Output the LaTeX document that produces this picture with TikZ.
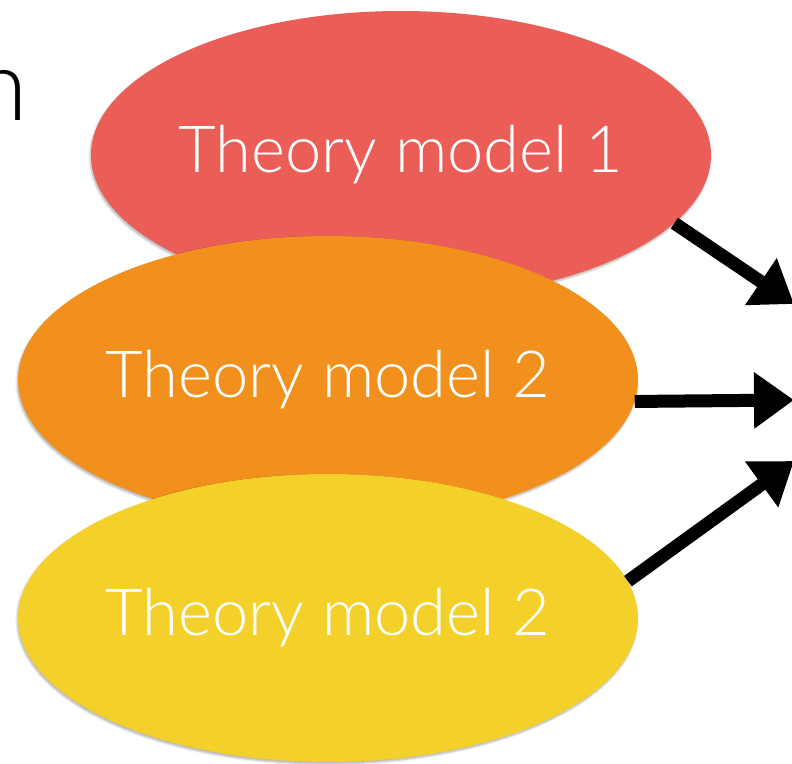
\documentclass[tikz,border=0pt]{standalone}
\usepackage{fontspec}
\setmainfont{Lato}[UprightFont=* Light]
\usepackage{tikz}
\usetikzlibrary{shapes.geometric,arrows.meta,shadows.blur}
\definecolor{mred}{HTML}{EB5E58}
\definecolor{morange}{HTML}{F1901C}
\definecolor{myellow}{HTML}{F4D12A}
\tikzset{
  model/.style={ellipse,minimum width=620pt,minimum height=288pt,inner sep=0pt,
    text=white,font=\fontsize{65}{78}\selectfont,
    blur shadow={shadow xshift=-1pt,shadow yshift=-2pt,shadow opacity=30,shadow blur steps=6}},
  feed/.style={line width=13pt,-{Triangle[length=40pt,width=54pt]}}
}
\newcommand{\mlabel}[1]{\makebox[0pt]{#1}}
\begin{document}
\begin{tikzpicture}[x=1pt,y=-1pt]
\useasboundingbox (0,0) rectangle (792,763);
\clip (0,0) rectangle (792,763);
\node[anchor=base east,inner sep=0pt,font=\fontsize{99}{110}\selectfont] (cut) at (28,120) {n};
\node[model,fill=mred] (red) at (401,155) {\mlabel{Theory model 1}};
\node[model,fill=morange] (orange) at (328,380) {\mlabel{Theory model 2}};
\node[model,fill=myellow] (yellow) at (328,618) {\mlabel{Theory model 2}};
\coordinate (t1) at (794,304);
\coordinate (t2) at (794,400);
\coordinate (t3) at (794,461);
\draw[feed] (red.-14) -- (t1);
\draw[feed] (orange.-4) -- (t2);
\draw[feed] (yellow.7) -- (t3);
\end{tikzpicture}
\end{document}
